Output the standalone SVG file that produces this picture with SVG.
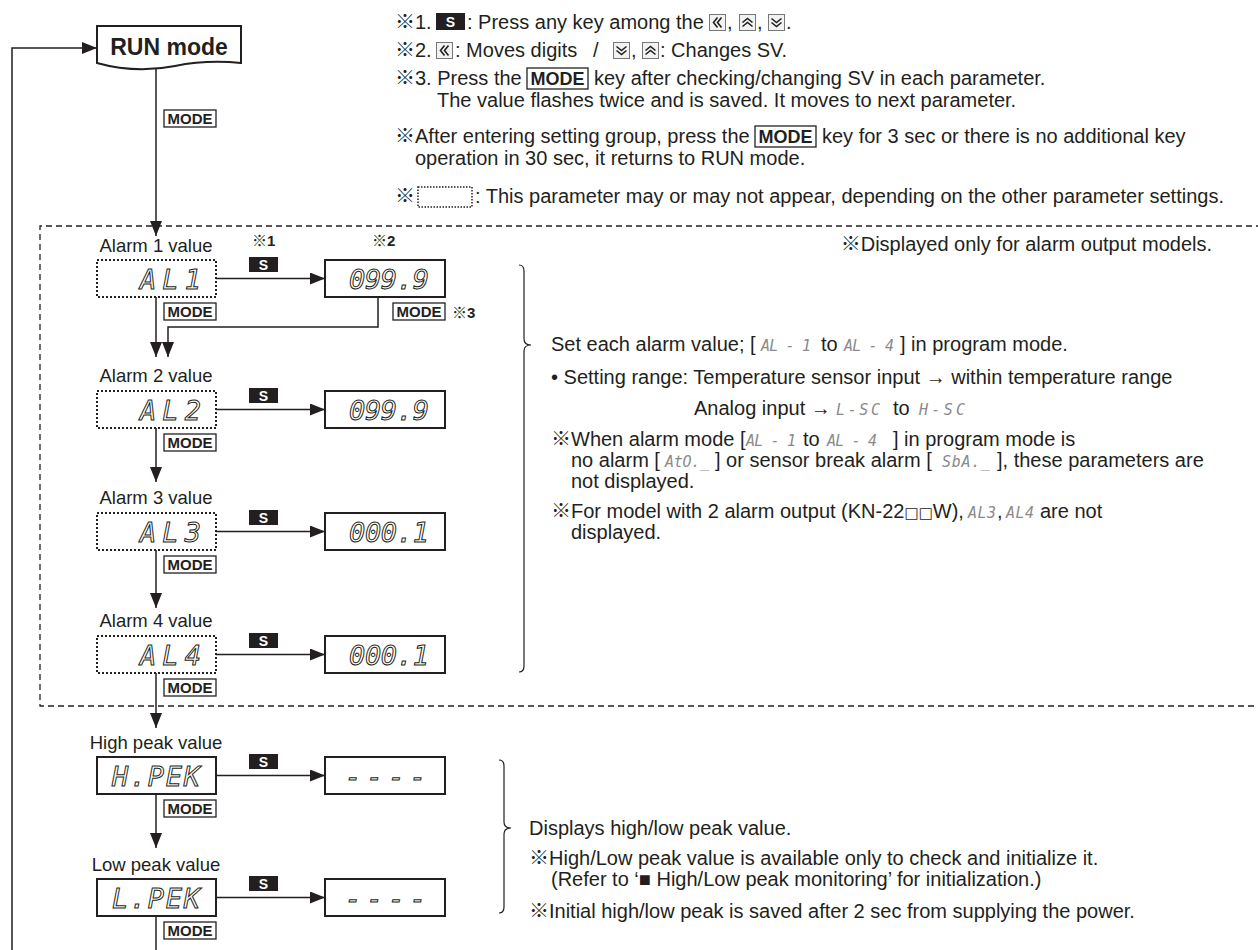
<svg xmlns="http://www.w3.org/2000/svg" width="1258" height="950" viewBox="0 0 1258 950">
<defs>
<style>
.t{font-family:"Liberation Sans","Noto Sans CJK JP",sans-serif;font-size:20px;fill:#231f20}
.lbl{font-family:"Liberation Sans",sans-serif;font-size:18.5px;fill:#231f20;text-anchor:middle}
.seg{font-family:"DejaVu Sans Mono",monospace;font-style:oblique;font-size:27px;fill:#fff;stroke:#231f20;stroke-width:1}
.iseg{font-family:"DejaVu Sans Mono",monospace;font-style:oblique;font-size:15px;fill:#8a8a8a}
.box{fill:#fff;stroke:#231f20;stroke-width:2}
.dbox{fill:#fff;stroke:#231f20;stroke-width:2;stroke-dasharray:2 2}
.mk rect{fill:#fff;stroke:#231f20;stroke-width:1.3}
.mk text{font-family:"Liberation Sans",sans-serif;font-weight:bold;font-size:15px;fill:#231f20;text-anchor:middle}
.mk2 rect{fill:#fff;stroke:#231f20;stroke-width:1.3}
.mk2 text{font-family:"Liberation Sans",sans-serif;font-weight:bold;font-size:18px;fill:#231f20;text-anchor:middle}
.sk rect{fill:#231f20}
.sk text{font-family:"Liberation Sans",sans-serif;font-weight:bold;font-size:14px;fill:#fff;text-anchor:middle}
.ln{fill:none;stroke:#231f20;stroke-width:1.5}
.br{fill:none;stroke:#231f20;stroke-width:1.2}
.ref{font-family:"Liberation Sans","Noto Sans CJK JP",sans-serif;font-size:15px;fill:#231f20}
.ic rect{fill:#f2f2f2;stroke:#777;stroke-width:1}
.ic path{fill:none;stroke:#231f20;stroke-width:1.6}
</style>
<marker id="ah" markerUnits="userSpaceOnUse" markerWidth="15" markerHeight="12" refX="15" refY="6" orient="auto"><path d="M0,0 L15,6 L0,12 Z" fill="#231f20"/></marker>
<g id="kl" class="ic"><rect x="0.5" y="0.5" width="16" height="16"/><path d="M8.5,3.5 L4.5,8.5 L8.5,13.5 M12.5,3.5 L8.5,8.5 L12.5,13.5"/></g>
<g id="ku" class="ic"><rect x="0.5" y="0.5" width="16" height="16"/><path d="M3.5,8.5 L8.5,4.5 L13.5,8.5 M3.5,12.5 L8.5,8.5 L13.5,12.5"/></g>
<g id="kd" class="ic"><rect x="0.5" y="0.5" width="16" height="16"/><path d="M3.5,4.5 L8.5,8.5 L13.5,4.5 M3.5,8.5 L8.5,12.5 L13.5,8.5"/></g>
</defs>
<rect width="1258" height="950" fill="#fff"/>

<!-- notes at top -->
<g id="notes">
<text class="t" x="395" y="29">※1.</text>
<g class="sk"><rect x="436" y="13" width="29" height="17"/><text x="450.5" y="26.5">S</text></g>
<text class="t" x="467" y="29">: Press any key among the</text>
<use href="#kl" x="709" y="14"/>
<text class="t" x="727" y="29">,</text>
<use href="#ku" x="739" y="14"/>
<text class="t" x="757" y="29">,</text>
<use href="#kd" x="768" y="14"/>
<text class="t" x="786" y="29">.</text>

<text class="t" x="395" y="57">※2.</text>
<use href="#kl" x="436" y="42"/>
<text class="t" x="455" y="57">: Moves digits</text>
<text class="t" x="593" y="57">/</text>
<use href="#kd" x="613" y="42"/>
<text class="t" x="631" y="57">,</text>
<use href="#ku" x="642" y="42"/>
<text class="t" x="660" y="57">: Changes SV.</text>

<text class="t" x="395" y="85">※3. Press the</text>
<g class="mk2"><rect x="527" y="68" width="61" height="21"/><text x="557.5" y="85">MODE</text></g>
<text class="t" x="594" y="85">key after checking/changing SV in each parameter.</text>
<text class="t" x="437" y="107">The value flashes twice and is saved. It moves to next parameter.</text>

<text class="t" x="395" y="143">※After entering setting group, press the</text>
<g class="mk2"><rect x="755" y="126" width="61" height="21"/><text x="785.5" y="143">MODE</text></g>
<text class="t" x="822" y="143">key for 3 sec or there is no additional key</text>
<text class="t" x="415" y="165">operation in 30 sec, it returns to RUN mode.</text>

<text class="t" x="395" y="203">※</text>
<rect x="418" y="187" width="54" height="20" fill="none" stroke="#231f20" stroke-width="1.5" stroke-dasharray="1.5 1.5"/>
<text class="t" x="475" y="203">: This parameter may or may not appear, depending on the other parameter settings.</text>
</g>

<!-- alarm group frame -->
<path id="alarm-group" d="M1262,226 H40 V706 H1262" fill="none" stroke="#231f20" stroke-width="1.3" stroke-dasharray="6 4"/>
<text class="t" x="1212" y="251" text-anchor="end">※Displayed only for alarm output models.</text>

<!-- connectors -->
<g id="connectors" class="ln">
<path d="M12,950 V48 H97" marker-end="url(#ah)"/>
<path d="M156,68 V236" marker-end="url(#ah)"/>
<path d="M156,297 V357" marker-end="url(#ah)"/>
<path d="M378,297 V327 H168 V357" marker-end="url(#ah)"/>
<path d="M156,428 V482" marker-end="url(#ah)"/>
<path d="M156,550 V608" marker-end="url(#ah)"/>
<path d="M156,673 V728" marker-end="url(#ah)"/>
<path d="M156,794 V848" marker-end="url(#ah)"/>
<path d="M156,916 V950"/>
<path d="M216,278.5 H325" marker-end="url(#ah)"/>
<path d="M216,409.5 H325" marker-end="url(#ah)"/>
<path d="M216,531.5 H325" marker-end="url(#ah)"/>
<path d="M216,654.5 H325" marker-end="url(#ah)"/>
<path d="M216,775.5 H325" marker-end="url(#ah)"/>
<path d="M216,897.5 H325" marker-end="url(#ah)"/>
</g>

<!-- keys on connectors -->
<g id="keys">
<g class="mk"><rect x="164" y="110" width="52" height="17"/><text x="190" y="124">MODE</text></g>
<g class="sk"><rect x="249" y="257" width="29" height="15"/><text x="263.5" y="269.5">S</text></g>
<g class="mk"><rect x="164" y="303" width="52" height="17"/><text x="190" y="317">MODE</text></g>
<g class="mk"><rect x="393" y="303" width="52" height="17"/><text x="419" y="317">MODE</text></g>
<g class="sk"><rect x="249" y="388" width="29" height="15"/><text x="263.5" y="400.5">S</text></g>
<g class="mk"><rect x="164" y="434" width="52" height="17"/><text x="190" y="448">MODE</text></g>
<g class="sk"><rect x="249" y="510" width="29" height="15"/><text x="263.5" y="522.5">S</text></g>
<g class="mk"><rect x="164" y="556" width="52" height="17"/><text x="190" y="570">MODE</text></g>
<g class="sk"><rect x="249" y="633" width="29" height="15"/><text x="263.5" y="645.5">S</text></g>
<g class="mk"><rect x="164" y="679" width="52" height="17"/><text x="190" y="693">MODE</text></g>
<g class="sk"><rect x="249" y="754" width="29" height="15"/><text x="263.5" y="766.5">S</text></g>
<g class="mk"><rect x="164" y="800" width="52" height="17"/><text x="190" y="814">MODE</text></g>
<g class="sk"><rect x="249" y="876" width="29" height="15"/><text x="263.5" y="888.5">S</text></g>
<g class="mk"><rect x="164" y="922" width="52" height="17"/><text x="190" y="936">MODE</text></g>
<text class="ref" x="252" y="246">※<tspan font-weight="bold">1</tspan></text>
<text class="ref" x="372" y="246">※<tspan font-weight="bold">2</tspan></text>
<text class="ref" x="452" y="318">※<tspan font-weight="bold">3</tspan></text>
</g>

<!-- nodes -->
<g id="node-run">
<path d="M97,26 H241 V63 C220,61 200,61 175,66 C150,71 122,70 97,63 Z" fill="#fff" stroke="#231f20" stroke-width="2"/>
<text x="169" y="55" font-family="Liberation Sans, sans-serif" font-weight="bold" font-size="23" fill="#231f20" text-anchor="middle">RUN mode</text>
</g>

<g id="node-al1">
<text class="lbl" x="156" y="252">Alarm 1 value</text>
<rect class="dbox" x="97" y="260" width="119" height="37"/>
<text class="seg" x="140" y="289" textLength="61" lengthAdjust="spacing">AL1</text>
</g>
<g id="node-al1-sv">
<rect class="box" x="325" y="260" width="120" height="37"/>
<text class="seg" x="349" y="289" textLength="80" lengthAdjust="spacing">099.9</text>
</g>

<g id="node-al2">
<text class="lbl" x="156" y="382">Alarm 2 value</text>
<rect class="dbox" x="97" y="391" width="119" height="37"/>
<text class="seg" x="140" y="420" textLength="61" lengthAdjust="spacing">AL2</text>
</g>
<g id="node-al2-sv">
<rect class="box" x="325" y="391" width="120" height="37"/>
<text class="seg" x="349" y="420" textLength="80" lengthAdjust="spacing">099.9</text>
</g>

<g id="node-al3">
<text class="lbl" x="156" y="504">Alarm 3 value</text>
<rect class="dbox" x="97" y="513" width="119" height="37"/>
<text class="seg" x="140" y="542" textLength="61" lengthAdjust="spacing">AL3</text>
</g>
<g id="node-al3-sv">
<rect class="box" x="325" y="513" width="120" height="37"/>
<text class="seg" x="349" y="542" textLength="80" lengthAdjust="spacing">000.1</text>
</g>

<g id="node-al4">
<text class="lbl" x="156" y="627">Alarm 4 value</text>
<rect class="dbox" x="97" y="636" width="119" height="37"/>
<text class="seg" x="140" y="665" textLength="61" lengthAdjust="spacing">AL4</text>
</g>
<g id="node-al4-sv">
<rect class="box" x="325" y="636" width="120" height="37"/>
<text class="seg" x="349" y="665" textLength="80" lengthAdjust="spacing">000.1</text>
</g>

<g id="node-hpek">
<text class="lbl" x="156" y="749">High peak value</text>
<rect class="box" x="97" y="757" width="119" height="37"/>
<text class="seg" x="112" y="786" textLength="88" lengthAdjust="spacing">H.PEK</text>
</g>
<g id="node-hpek-val">
<rect class="box" x="325" y="757" width="120" height="37"/>
<text class="seg" x="345" y="786" textLength="81" lengthAdjust="spacing">----</text>
</g>

<g id="node-lpek">
<text class="lbl" x="156" y="871">Low peak value</text>
<rect class="box" x="97" y="879" width="119" height="37"/>
<text class="seg" x="112" y="908" textLength="88" lengthAdjust="spacing">L.PEK</text>
</g>
<g id="node-lpek-val">
<rect class="box" x="325" y="879" width="120" height="37"/>
<text class="seg" x="345" y="908" textLength="81" lengthAdjust="spacing">----</text>
</g>

<!-- explanation for alarm values -->
<g id="note-alarm">
<path class="br" d="M519,265 Q524,265 524,271 L524,339 Q524,345 531,345 Q524,345 524,351 L524,666 Q524,672 519,672"/>
<text class="t" x="551" y="351">Set each alarm value; [</text>
<text class="iseg" x="761" y="351" textLength="50" lengthAdjust="spacing">AL - 1</text>
<text class="t" x="821" y="351">to</text>
<text class="iseg" x="844" y="351" textLength="50" lengthAdjust="spacing">AL - 4</text>
<text class="t" x="900" y="351">] in program mode.</text>

<text class="t" x="551" y="384">• Setting range: Temperature sensor input → within temperature range</text>
<text class="t" x="694" y="415">Analog input →</text>
<text class="iseg" x="836" y="415" textLength="44" lengthAdjust="spacing">L-SC</text>
<text class="t" x="893" y="415">to</text>
<text class="iseg" x="919" y="415" textLength="46" lengthAdjust="spacing">H-SC</text>

<text class="t" x="551" y="446">※When alarm mode [</text>
<text class="iseg" x="746" y="446" textLength="50" lengthAdjust="spacing">AL - 1</text>
<text class="t" x="803" y="446">to</text>
<text class="iseg" x="827" y="446" textLength="50" lengthAdjust="spacing">AL - 4</text>
<text class="t" x="893" y="446">] in program mode is</text>
<text class="t" x="571" y="467">no alarm [</text>
<text class="iseg" x="665" y="467" textLength="44" lengthAdjust="spacing">AtO._</text>
<text class="t" x="715" y="467">] or sensor break alarm [</text>
<text class="iseg" x="942" y="467" textLength="48" lengthAdjust="spacing">SbA._</text>
<text class="t" x="997" y="467">], these parameters are</text>
<text class="t" x="571" y="488">not displayed.</text>

<text class="t" x="551" y="518">※For model with 2 alarm output (KN-22<tspan font-family="DejaVu Sans" font-size="15">□□</tspan>W),</text>
<text class="iseg" x="968" y="518" textLength="28" lengthAdjust="spacing">AL3</text>
<text class="t" x="997" y="518">,</text>
<text class="iseg" x="1006" y="518" textLength="28" lengthAdjust="spacing">AL4</text>
<text class="t" x="1040" y="518">are not</text>
<text class="t" x="571" y="539">displayed.</text>
</g>

<!-- explanation for peak values -->
<g id="note-peak">
<path class="br" d="M499,760 Q504,760 504,766 L504,822 Q504,828 511,828 Q504,828 504,834 L504,907 Q504,913 499,913"/>
<text class="t" x="529" y="835">Displays high/low peak value.</text>
<text class="t" x="529" y="865">※High/Low peak value is available only to check and initialize it.</text>
<text class="t" x="551" y="886">(Refer to ‘■ High/Low peak monitoring’ for initialization.)</text>
<text class="t" x="529" y="918">※Initial high/low peak is saved after 2 sec from supplying the power.</text>
</g>
</svg>
